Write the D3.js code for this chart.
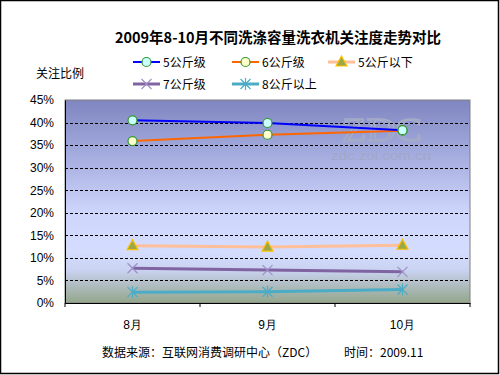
<!DOCTYPE html>
<html><head><meta charset="utf-8">
<script src="https://cdn.jsdelivr.net/npm/d3@7"></script>
<style>body{margin:0;background:#fff;}svg{display:block;font-family:"Noto Sans CJK SC","Liberation Sans",sans-serif;}</style>
</head><body><svg id="c" width="500" height="375"></svg>
<script>
const categories = ["8月", "9月", "10月"];
const seriesNames = ["5公斤级", "6公斤级", "5公斤以下", "7公斤级", "8公斤以上"];
const s5kg = [40.5, 39.9, 38.3];
const s6kg = [35.9, 37.3, 38.2];
const sUnder5 = [12.7, 12.4, 12.8];
const s7kg = [7.7, 7.3, 6.9];
const sOver8 = [2.4, 2.5, 3.0];
const yTicks = [0, 5, 10, 15, 20, 25, 30, 35, 40, 45];

const series = [
  {name: seriesNames[0], values: s5kg, color: "#0000FF", w: 2, marker: "circle", mfill: "#CCFFFF", mstroke: "#339933"},
  {name: seriesNames[1], values: s6kg, color: "#FF6600", w: 2, marker: "circle", mfill: "#FFFFCC", mstroke: "#339933"},
  {name: seriesNames[2], values: sUnder5, color: "#FFBF99", w: 3, marker: "triangle", mfill: "#9BA84A", mstroke: "#FFC000"},
  {name: seriesNames[3], values: s7kg, color: "#8064A2", w: 3, marker: "x", mfill: "none", mstroke: "#9F8FC8"},
  {name: seriesNames[4], values: sOver8, color: "#4BACC6", w: 3, marker: "star", mfill: "none", mstroke: "#4BACC6"}
];

const svg = d3.select("#c");
svg.append("rect").attr("x",0.5).attr("y",0.5).attr("width",498).attr("height",373)
  .attr("fill","#fff").attr("stroke","#000").attr("stroke-width",1.5);

const L = 65, R = 470, T = 100, B = 303;
const x = d3.scaleBand().domain(categories).range([L, R]);
const y = d3.scaleLinear().domain([0, 45]).range([B, T]);

const defs = svg.append("defs");
const g = defs.append("linearGradient").attr("id","bg").attr("x1",0).attr("y1",0).attr("x2",0).attr("y2",1);
[[0,"#7F86C0"],[0.3,"#A9B0E2"],[0.55,"#CDD5FB"],[0.75,"#D5DDFF"],[0.84,"#C9D2F0"],[0.9,"#B4C0C8"],[1,"#93A68B"]]
  .forEach(([o,c]) => g.append("stop").attr("offset",o).attr("stop-color",c));

svg.append("rect").attr("x",L).attr("y",T).attr("width",R-L).attr("height",B-T)
  .attr("fill","url(#bg)").attr("stroke","#808080").attr("stroke-width",1);

// watermark
svg.append("text").attr("x",382).attr("y",141).attr("text-anchor","middle")
  .attr("font-family","Liberation Serif, serif").attr("font-size",34)
  .attr("textLength",80).attr("lengthAdjust","spacingAndGlyphs")
  .attr("fill","#9AA2C6").attr("fill-opacity",0.55)
  .attr("stroke","#A3ABC9").attr("stroke-width",1.5).text("ZDC");
svg.append("text").attr("x",381).attr("y",160).attr("text-anchor","middle")
  .attr("font-family","Liberation Sans, sans-serif").attr("font-size",12)
  .attr("textLength",100).attr("lengthAdjust","spacingAndGlyphs")
  .attr("fill","#A0A8C8").text("zdc.zol.com.cn");

// gridlines
svg.append("g").selectAll("line").data(yTicks.filter(d => d > 0 && d < 45)).join("line")
  .attr("x1",L).attr("x2",R).attr("y1",d=>Math.round(y(d))+0.5).attr("y2",d=>Math.round(y(d))+0.5)
  .attr("stroke","#000").attr("stroke-dasharray","3,2").attr("stroke-width",1);

// axes
const ya = svg.append("g").attr("transform",`translate(${L},0)`)
  .call(d3.axisLeft(y).tickValues(yTicks).tickFormat(d=>d+"%").tickSize(0).tickPadding(11));
ya.select(".domain").attr("stroke","#000");
ya.selectAll("text").attr("font-family","Liberation Sans, sans-serif").attr("font-size",12).attr("fill","#000");

const xa = svg.append("g").attr("transform",`translate(0,${B})`)
  .call(d3.axisBottom(x).tickSize(0).tickPadding(17));
xa.select(".domain").attr("stroke","#000");
xa.selectAll("text").attr("font-size",12).attr("fill","#000");
svg.append("g").selectAll("line").data(categories.concat(["end"])).join("line")
  .attr("x1",(d,i)=>L+i*x.bandwidth()).attr("x2",(d,i)=>L+i*x.bandwidth())
  .attr("y1",B).attr("y2",B+4).attr("stroke","#000");

const cx = d => x(d) + x.bandwidth()/2;

function drawMarker(sel, s, px, py) {
  if (s.marker === "circle") {
    sel.append("circle").attr("cx",px).attr("cy",py).attr("r",4.5)
      .attr("fill",s.mfill).attr("stroke",s.mstroke).attr("stroke-width",1.2);
  } else if (s.marker === "triangle") {
    sel.append("path").attr("d",`M${px},${py-6}L${px+5.5},${py+4}L${px-5.5},${py+4}Z`)
      .attr("fill",s.mfill).attr("stroke",s.mstroke).attr("stroke-width",1.2);
  } else if (s.marker === "x") {
    sel.append("path").attr("d",`M${px-5},${py-5}L${px+5},${py+5}M${px-5},${py+5}L${px+5},${py-5}`)
      .attr("stroke",s.mstroke).attr("stroke-width",1.2);
  } else if (s.marker === "star") {
    sel.append("path").attr("d",`M${px-5},${py-5}L${px+5},${py+5}M${px-5},${py+5}L${px+5},${py-5}M${px},${py-6}L${px},${py+6}`)
      .attr("stroke",s.mstroke).attr("stroke-width",1.2);
  }
}

const line = d3.line().x((d,i)=>cx(categories[i])).y(d=>y(d));
const plot = svg.append("g");
series.slice().reverse().forEach(s => {
  plot.append("path").attr("d",line(s.values)).attr("fill","none")
    .attr("stroke",s.color).attr("stroke-width",s.w);
});
series.slice().reverse().forEach(s => {
  s.values.forEach((v,i) => drawMarker(plot, s, cx(categories[i]), y(v)));
});

// title
svg.append("text").attr("x",278).attr("y",43).attr("text-anchor","middle")
  .attr("font-size",14.5).attr("font-weight","bold").attr("fill","#000")
  .text("2009年8-10月不同洗涤容量洗衣机关注度走势对比");

// y axis title
svg.append("text").attr("x",36).attr("y",78).attr("font-size",12).attr("fill","#000").text("关注比例");

// legend
const legPos = [[133,62],[232,62],[328,62],[133,84],[232,84]];
series.forEach((s,i) => {
  const [lx,ly] = legPos[i];
  const lg = svg.append("g");
  lg.append("line").attr("x1",lx).attr("x2",lx+27).attr("y1",ly).attr("y2",ly)
    .attr("stroke",s.color).attr("stroke-width",s.w);
  drawMarker(lg, s, lx+13.5, ly);
  lg.append("text").attr("x",lx+30).attr("y",ly+4.5).attr("font-size",12).attr("fill","#000").text(s.name);
});

// footer
svg.append("text").attr("x",102).attr("y",357).attr("font-size",12).attr("fill","#000")
  .text("数据来源：互联网消费调研中心（ZDC）");
svg.append("text").attr("x",344).attr("y",357).attr("font-size",12).attr("fill","#000")
  .text("时间：2009.11");
</script></body></html>
